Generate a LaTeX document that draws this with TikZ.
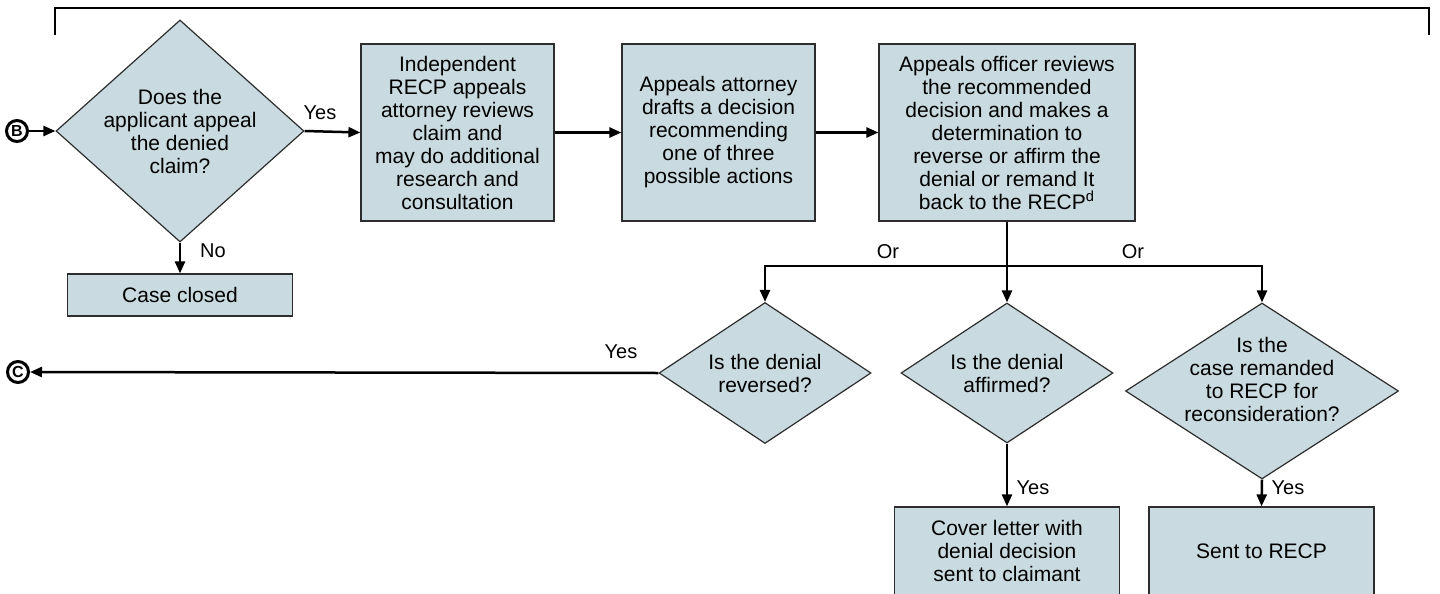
\documentclass[tikz,border=0pt]{standalone}
\usepackage{fontspec}
\setmainfont{Liberation Sans}
\usetikzlibrary{arrows.meta,shapes.geometric}
\definecolor{boxfill}{RGB}{201,218,224}
\definecolor{edgegray}{RGB}{45,45,45}
\tikzset{
  procbox/.style={rectangle, draw=edgegray, line width=0.6pt, fill=boxfill, inner sep=0pt, align=center, font=\fontsize{10.5}{11.5}\selectfont},
  decbox/.style={diamond, draw=edgegray, line width=0.6pt, fill=boxfill, inner sep=0pt},
  dectext/.style={align=center, font=\fontsize{10.5}{11.5}\selectfont, inner sep=0pt},
  flow/.style={line width=1.25pt, -{Triangle[length=6pt,width=5pt]}},
  plainline/.style={line width=1.25pt},
  lbl/.style={font=\fontsize{10}{12}\selectfont, inner sep=0pt},
  conn/.style={circle, draw, line width=1.5pt, inner sep=0pt, minimum size=10.5pt, font=\fontsize{8}{8}\selectfont\bfseries},
}
\begin{document}
\begin{tikzpicture}[x=0.5pt,y=-0.5pt]
\useasboundingbox (0,0) rectangle (1440,594);
\clip (0,0) rectangle (1440,594);

% top bracket
\coordinate (brL) at (55,35);
\coordinate (brR) at (1429,35);
\draw[plainline] (brL) -- (55,8) -- (1429,8) -- (brR);

% connectors B and C
\node[conn] (B) at (17,131) {B};
\node[conn] (C) at (18,372) {C};

% first decision
\node[decbox, minimum width=124pt, minimum height=111pt] (d1) at (180,131) {};
\node[dectext] (t1) at (180,131.5) {Does the\\applicant appeal\\the denied\\claim?};

\node[procbox, minimum width=112.5pt, minimum height=21pt] (cc) at (180,295) {Case closed};

% process boxes
\node[procbox, minimum width=96.5pt, minimum height=88.5pt] (b2) at (457.5,132.5)
  {Independent\\RECP appeals\\attorney reviews\\claim and\\may do additional\\research and\\consultation};
\node[procbox, minimum width=96.5pt, minimum height=88.5pt] (b3) at (718.5,132.5)
  {Appeals attorney\\drafts a decision\\recommending\\one of three\\possible actions};
\node[procbox, minimum width=128pt, minimum height=88.5pt] (b4) at (1007,132.5)
  {Appeals officer reviews\\the recommended\\decision and makes a\\determination to\\reverse or affirm the\\denial or remand It\\back to the RECP\textsuperscript{d}};

% lower decisions
\node[decbox, minimum width=106pt, minimum height=70.5pt] (d2) at (765,373) {};
\node[dectext] (t2) at (765,373.5) {Is the denial\\reversed?};
\node[decbox, minimum width=106pt, minimum height=70pt] (d3) at (1007,373) {};
\node[dectext] (t3) at (1007,373.5) {Is the denial\\affirmed?};
\node[decbox, minimum width=136.5pt, minimum height=88pt] (d4) at (1262,391) {};
\node[dectext] (t4) at (1262,379) {Is the\\case remanded\\to RECP for\\reconsideration?};

% result boxes
\node[procbox, minimum width=112.5pt, minimum height=44pt] (b5) at (1007,551)
  {Cover letter with\\denial decision\\sent to claimant};
\node[procbox, minimum width=112.5pt, minimum height=44pt] (b6) at (1261.5,551)
  {Sent to RECP};

% arrows
\draw[flow] (B) -- (d1.west);
\draw[flow] (d1.east) -- (b2.west);
\draw[flow] (b2.east) -- (b3.west);
\draw[flow] (b3.east) -- (b4.west);
\draw[flow] (d1.south) -- (cc.north);

\coordinate (j) at (1007,266);
\draw[plainline] (b4.south) -- (j);
\draw[flow] (j) -- (d3.north);
\draw[flow] (j) -| (d2.north);
\draw[flow] (j) -| (d4.north);

\draw[flow] (d2.west) -- (C);
\draw[flow] (d3.south) -- (b5.north);
\draw[flow] (d4.south) -- (b6.north);

% labels
\node[lbl] (l1) at (320,113) {Yes};
\node[lbl] (l2) at (213,251) {No};
\node[lbl] (l3) at (888,252) {Or};
\node[lbl] (l4) at (1133,252) {Or};
\node[lbl] (l5) at (621,352) {Yes};
\node[lbl] (l6) at (1033,488) {Yes};
\node[lbl] (l7) at (1288,488) {Yes};
\end{tikzpicture}
\end{document}
